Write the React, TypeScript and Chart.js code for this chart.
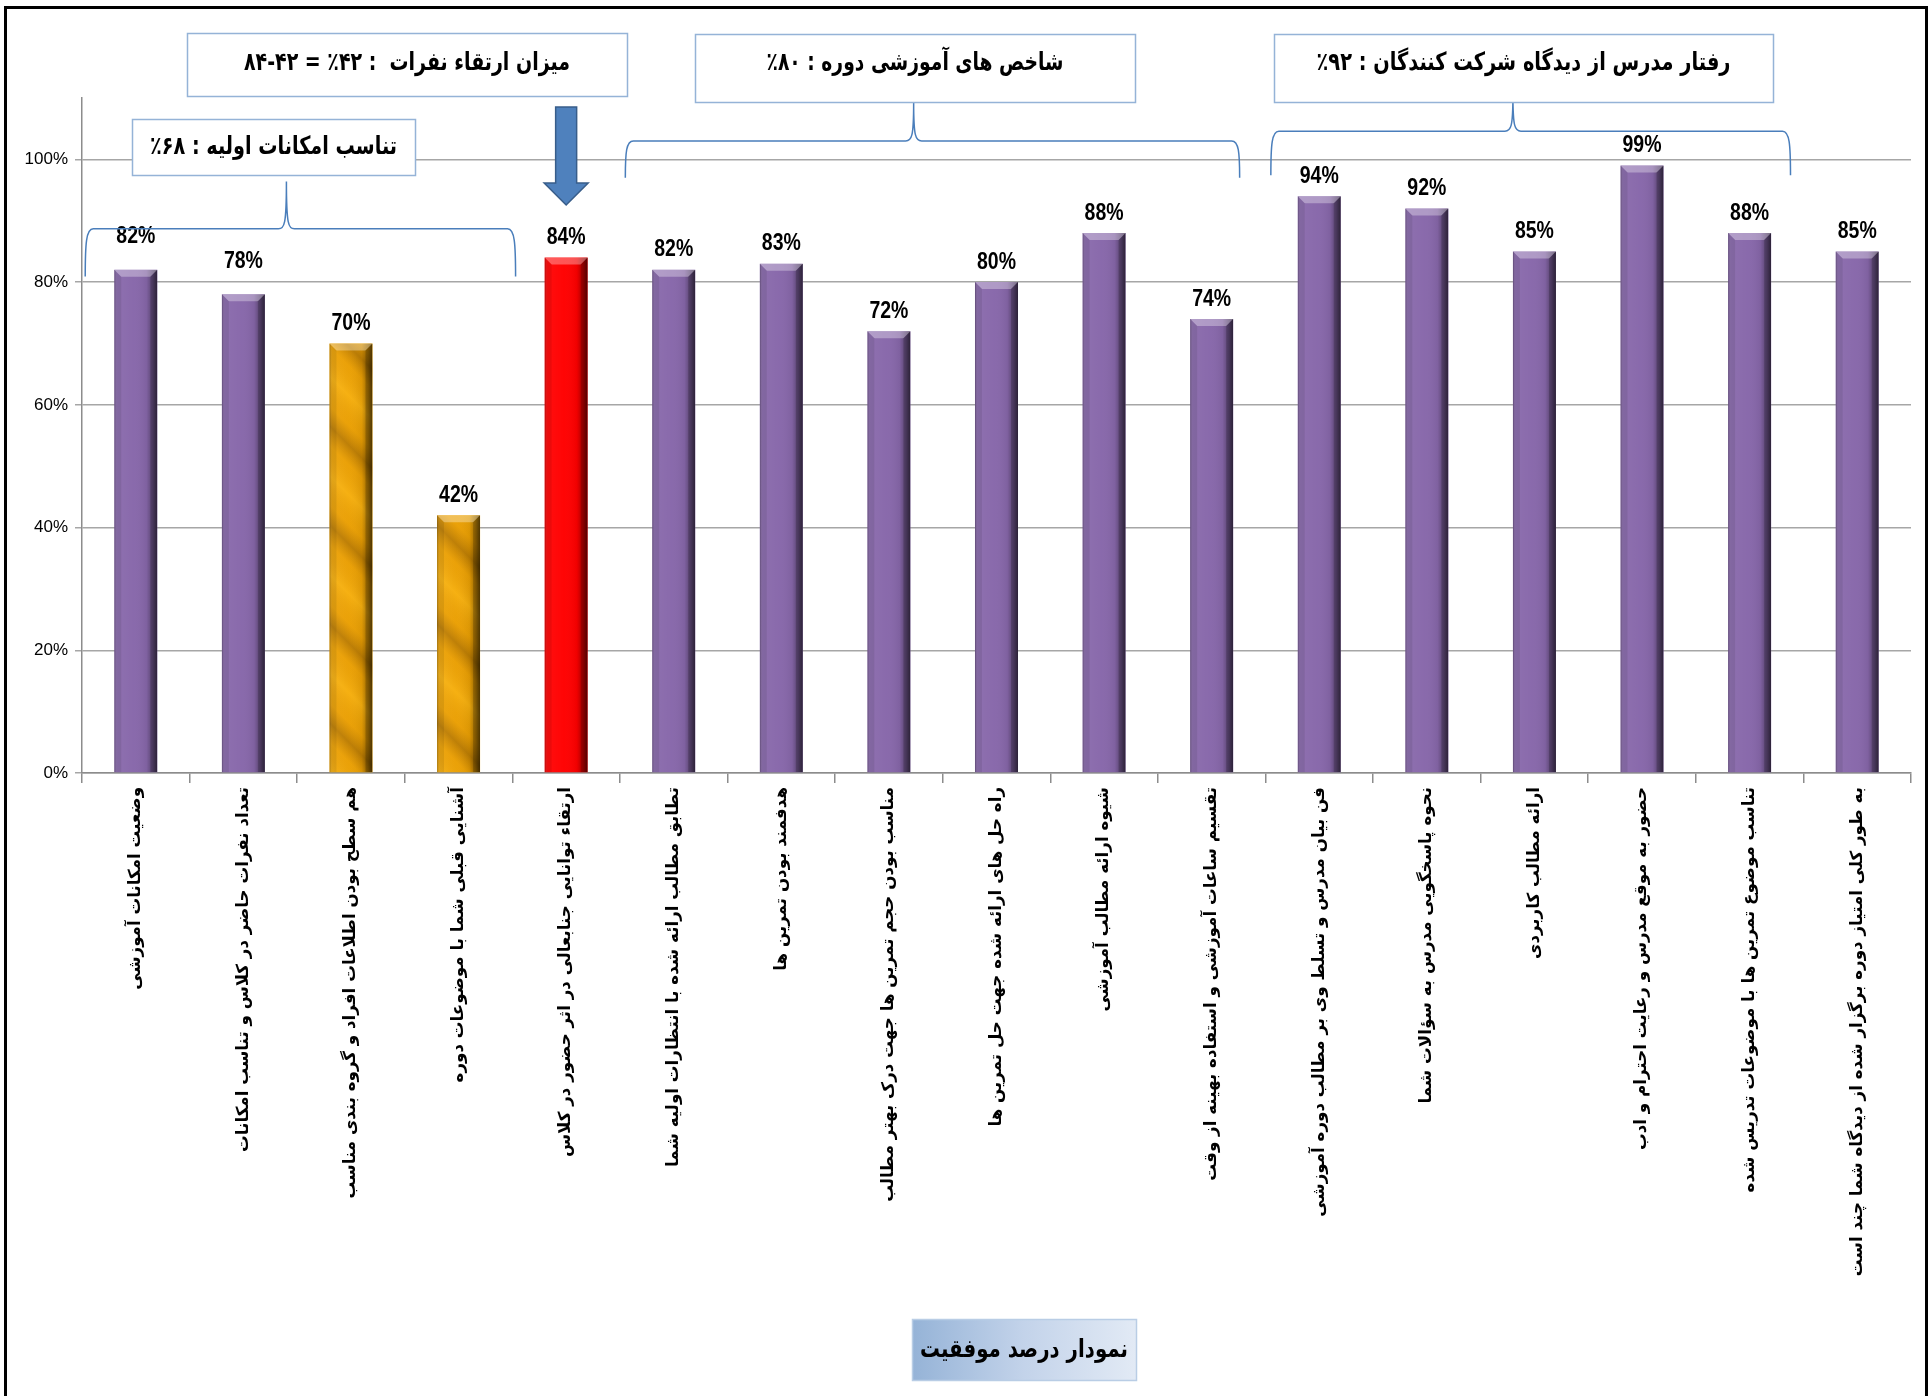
import React, { useEffect, useRef } from 'react';
import { Chart, registerables } from 'chart.js';

Chart.register(...registerables);

// ---------- data ----------
const categories: string[] = [
  'وضعیت امکانات آموزشی',
  'تعداد نفرات حاضر در کلاس و تناسب امکانات',
  'هم سطح بودن اطلاعات افراد و گروه بندی مناسب',
  'آشنایی قبلی شما با موضوعات دوره',
  'ارتقاء توانایی جنابعالی در اثر حضور در کلاس',
  'تطابق مطالب ارائه شده با انتظارات اولیه شما',
  'هدفمند بودن تمرین ها',
  'مناسب بودن حجم تمرین ها جهت درک بهتر مطالب',
  'راه حل های ارائه شده جهت حل تمرین ها',
  'شیوه ارائه مطالب آموزشی',
  'تقسیم ساعات آموزشی و استفاده بهینه از وقت',
  'فن بیان مدرس و تسلط وی بر مطالب دوره آموزشی',
  'نحوه پاسخگویی مدرس به سؤالات شما',
  'ارائه مطالب کاربردی',
  'حضور به موقع مدرس و رعایت احترام و ادب',
  'تناسب موضوع تمرین ها با موضوعات تدریس شده',
  'به طور کلی امتیاز دوره برگزار شده از دیدگاه شما چند است',
];

const values: number[] = [82, 78, 70, 42, 84, 82, 83, 72, 80, 88, 74, 94, 92, 85, 99, 88, 85];

const yTicks: number[] = [0, 20, 40, 60, 80, 100];

const barKinds: string[] = [
  'purple', 'purple', 'gold', 'gold', 'red', 'purple', 'purple', 'purple', 'purple',
  'purple', 'purple', 'purple', 'purple', 'purple', 'purple', 'purple', 'purple',
];

const labelLift: number[] = [13, 13, 0, 0, 0, 0, 0, 0, 0, 0, 0, 0, 0, 0, 0, 0, 0];

const groupTexts: string[] = [
  'تناسب امکانات اولیه : ۶۸٪',
  'شاخص های آموزشی دوره : ۸۰٪',
  'رفتار مدرس از دیدگاه شرکت کنندگان : ۹۲٪',
];
const improvementText = 'میزان ارتقاء نفرات  : ۴۲٪ = ۴۲-۸۴';
const titleText = 'نمودار درصد موفقیت';

// ---------- styles ----------
const baseColors: Record<string, string> = { purple: '#8767aa', gold: '#f4a703', red: '#ff0000' };
const PERSIAN_FONT = '"DejaVu Sans", "Noto Sans", sans-serif';
const LATIN_FONT = '"Liberation Sans", Arial, sans-serif';
const NARROW_FONT = '"Liberation Sans Narrow", "Liberation Sans", Arial, sans-serif';

function fitSize(ctx: CanvasRenderingContext2D, text: string, weight: string, family: string, target: number, base = 24) {
  ctx.font = `${weight} ${base}px ${family}`;
  const w = ctx.measureText(text).width || target;
  return base * target / w;
}

// draws text at a fixed font size, squeezed horizontally to a target width
function fitText(ctx: CanvasRenderingContext2D, text: string, cx: number, cy: number, font: string, target: number, rtl: boolean) {
  ctx.save();
  ctx.font = font;
  (ctx as any).direction = rtl ? 'rtl' : 'ltr';
  const w = ctx.measureText(text).width || target;
  const k = target / w;
  ctx.translate(cx, cy);
  ctx.scale(k, 1);
  ctx.fillStyle = '#000';
  ctx.textAlign = 'center';
  ctx.textBaseline = 'middle';
  ctx.fillText(text, 0, 0);
  ctx.restore();
}

function shadeBar(ctx: CanvasRenderingContext2D, L: number, R: number, T: number, B: number, kind: string) {
  const w = R - L;
  const h = B - T;
  if (h <= 0) return;
  const b = Math.min(7, h / 2);
  ctx.save();
  ctx.beginPath();
  ctx.rect(L, T, w, h);
  ctx.clip();

  if (kind === 'gold') {
    const s = (w + h) / 2;
    const g = ctx.createLinearGradient(L, B, L + s, B - s);
    const total = (w + h) / Math.SQRT2;
    const period = 70;
    const n = total / period;
    for (let k = 0; k <= Math.ceil(n); k++) {
      const p0 = k / n;
      const p1 = (k + 0.3) / n;
      const p2 = (k + 0.5) / n;
      const p3 = (k + 0.7) / n;
      if (p0 <= 1) g.addColorStop(p0, 'rgba(255,210,60,0.18)');
      if (p1 <= 1) g.addColorStop(p1, 'rgba(120,70,0,0.08)');
      if (p2 <= 1) g.addColorStop(p2, 'rgba(90,50,0,0.36)');
      if (p3 <= 1) g.addColorStop(p3, 'rgba(120,70,0,0.08)');
    }
    ctx.fillStyle = g;
    ctx.fillRect(L, T, w, h);
  }

  const hg = ctx.createLinearGradient(L, 0, R, 0);
  hg.addColorStop(0, 'rgba(0,0,0,0.28)');
  hg.addColorStop(0.06, 'rgba(255,255,255,0.06)');
  hg.addColorStop(0.45, 'rgba(255,255,255,0.02)');
  hg.addColorStop(0.75, 'rgba(0,0,0,0.06)');
  hg.addColorStop(0.9, 'rgba(0,0,0,0.35)');
  hg.addColorStop(1, 'rgba(0,0,0,0.6)');
  ctx.fillStyle = hg;
  ctx.fillRect(L, T, w, h);

  // top bevel
  ctx.beginPath();
  ctx.moveTo(L, T);
  ctx.lineTo(R, T);
  ctx.lineTo(R - b, T + b);
  ctx.lineTo(L + b, T + b);
  ctx.closePath();
  ctx.fillStyle = 'rgba(255,255,255,0.32)';
  ctx.fill();
  // right bevel
  ctx.beginPath();
  ctx.moveTo(R, T);
  ctx.lineTo(R, B);
  ctx.lineTo(R - b, B);
  ctx.lineTo(R - b, T + b);
  ctx.closePath();
  ctx.fillStyle = 'rgba(0,0,0,0.18)';
  ctx.fill();
  // left bevel
  ctx.beginPath();
  ctx.moveTo(L, T);
  ctx.lineTo(L + b, T + b);
  ctx.lineTo(L + b, B);
  ctx.lineTo(L, B);
  ctx.closePath();
  ctx.fillStyle = 'rgba(0,0,0,0.08)';
  ctx.fill();
  ctx.restore();
}

function drawBrace(ctx: CanvasRenderingContext2D, x1: number, x2: number, xc: number, yEnd: number, yH: number, yPeak: number) {
  const r = 8;
  ctx.beginPath();
  ctx.moveTo(x1, yEnd);
  ctx.bezierCurveTo(x1, yH + (yEnd - yH) * 0.3, x1 + 1, yH, x1 + r, yH);
  ctx.lineTo(xc - r, yH);
  ctx.bezierCurveTo(xc - 2, yH, xc, yH - 4, xc, yPeak);
  ctx.bezierCurveTo(xc, yH - 4, xc + 2, yH, xc + r, yH);
  ctx.lineTo(x2 - r, yH);
  ctx.bezierCurveTo(x2 - 1, yH, x2, yH + (yEnd - yH) * 0.3, x2, yEnd);
  ctx.strokeStyle = '#4a7ebb';
  ctx.lineWidth = 1.5;
  ctx.stroke();
}

function drawTextBox(ctx: CanvasRenderingContext2D, x: number, y: number, w: number, h: number, text: string, textW: number, cy: number) {
  ctx.save();
  ctx.fillStyle = '#ffffff';
  ctx.fillRect(x, y, w, h);
  ctx.strokeStyle = '#95b3d7';
  ctx.lineWidth = 1.5;
  ctx.strokeRect(x + 0.5, y + 0.5, w, h);
  ctx.restore();
  fitText(ctx, text, x + w / 2, cy, `bold 25px ${PERSIAN_FONT}`, textW, true);
}

const decorPlugin = {
  id: 'decor',
  beforeDraw(chart: any) {
    const ctx = chart.ctx as CanvasRenderingContext2D;
    ctx.save();
    ctx.fillStyle = '#ffffff';
    ctx.fillRect(0, 0, chart.width, chart.height);
    ctx.restore();
  },
  afterDatasetsDraw(chart: any) {
    const ctx = chart.ctx as CanvasRenderingContext2D;
    const meta = chart.getDatasetMeta(0);
    meta.data.forEach((el: any, i: number) => {
      const p = el.getProps(['x', 'y', 'base', 'width'], true);
      const L = p.x - p.width / 2;
      const R = p.x + p.width / 2;
      shadeBar(ctx, L, R, p.y, p.base, barKinds[i]);
      fitText(ctx, `${Math.round(values[i])}%`, p.x, p.y - 20 - labelLift[i], `bold 24px ${NARROW_FONT}`, 39, false);
    });
  },
  afterDraw(chart: any) {
    const ctx = chart.ctx as CanvasRenderingContext2D;
    const xs = chart.scales.x;
    const ys = chart.scales.y;
    const cat = xs.getPixelForValue(1) - xs.getPixelForValue(0);
    const px = (v: number) => xs.getPixelForValue(0) + v * cat;
    const py = (v: number) => ys.getPixelForValue(v);

    // outer frame
    ctx.save();
    ctx.strokeStyle = '#000';
    ctx.lineWidth = 3;
    ctx.beginPath();
    ctx.moveTo(5.5, chart.height);
    ctx.lineTo(5.5, 7.5);
    ctx.lineTo(1926.5, 7.5);
    ctx.lineTo(1926.5, chart.height);
    ctx.stroke();
    ctx.restore();

    // braces
    drawBrace(ctx, px(-0.47), px(3.53), px(1.4), py(80.9), py(88.7), py(96.4));
    drawBrace(ctx, px(4.55), px(10.26), px(7.23), py(97), py(103), py(109.2));
    drawBrace(ctx, px(10.55), px(15.38), px(12.8), py(97.4), py(104.6), py(110.5));

    // boxes
    drawTextBox(ctx, 132, 119, 283, 56, groupTexts[0], 247, 147);
    drawTextBox(ctx, 695, 34, 440, 68, groupTexts[1], 297, 63);
    drawTextBox(ctx, 1274, 34, 499, 68, groupTexts[2], 414, 63);
    drawTextBox(ctx, 187, 33, 440, 63, improvementText, 326, 63);

    // arrow
    const ax = xs.getPixelForValue(4);
    ctx.save();
    ctx.beginPath();
    ctx.moveTo(ax - 10.5, 107);
    ctx.lineTo(ax + 10.5, 107);
    ctx.lineTo(ax + 10.5, 183);
    ctx.lineTo(ax + 22, 183);
    ctx.lineTo(ax, 205);
    ctx.lineTo(ax - 22, 183);
    ctx.lineTo(ax - 10.5, 183);
    ctx.closePath();
    ctx.fillStyle = '#4f81bd';
    ctx.fill();
    ctx.strokeStyle = '#385d8a';
    ctx.lineWidth = 1.5;
    ctx.stroke();
    ctx.restore();

    // title box
    ctx.save();
    const tx = 912, ty = 1319, tw = 224, th = 61;
    const tg = ctx.createLinearGradient(tx, 0, tx + tw, 0);
    tg.addColorStop(0, '#95b3d7');
    tg.addColorStop(0.5, '#c3d3ea');
    tg.addColorStop(1, '#e2eaf5');
    ctx.fillStyle = tg;
    ctx.fillRect(tx, ty, tw, th);
    ctx.strokeStyle = '#b9cde5';
    ctx.lineWidth = 1.5;
    ctx.strokeRect(tx + 0.5, ty + 0.5, tw, th);
    ctx.restore();
    fitText(ctx, titleText, tx + tw / 2, ty + th / 2 + 1, `bold 25px ${PERSIAN_FONT}`, 208, true);
  },
};

export default function App() {
  const ref = useRef<HTMLCanvasElement | null>(null);

  useEffect(() => {
    const canvas = ref.current;
    if (!canvas) return;
    const mctx = document.createElement('canvas').getContext('2d') as CanvasRenderingContext2D;
    const xFontSize = fitSize(mctx, categories[0], 'bold', PERSIAN_FONT, 203, 17);

    const chart = new Chart(canvas, {
      type: 'bar',
      data: {
        labels: categories,
        datasets: [
          {
            data: values,
            backgroundColor: barKinds.map((k) => baseColors[k]),
            borderWidth: 0,
            barPercentage: 0.4,
            categoryPercentage: 1.0,
          },
        ],
      },
      options: {
        responsive: false,
        animation: false,
        events: [],
        layout: { padding: { left: 0, right: 19, top: 98, bottom: 0 } },
        plugins: {
          legend: { display: false },
          tooltip: { enabled: false },
          title: { display: false },
        },
        scales: {
          x: {
            type: 'category',
            grid: {
              display: true,
              drawOnChartArea: false,
              drawTicks: true,
              tickLength: 10,
              color: '#8c8c8c',
              lineWidth: 1.5,
              offset: true,
            },
            border: { display: true, color: '#8c8c8c', width: 1.5 },
            ticks: {
              autoSkip: false,
              minRotation: 90,
              maxRotation: 90,
              color: '#000',
              padding: 4,
              font: { family: PERSIAN_FONT, size: xFontSize, weight: 'bold' },
            },
            afterFit: (s: any) => {
              s.height = 623;
            },
          },
          y: {
            min: 0,
            max: 110,
            afterBuildTicks: (s: any) => {
              s.ticks = yTicks.map((v) => ({ value: v }));
            },
            grid: { color: '#a6a6a6', lineWidth: 1.5, tickLength: 7, drawTicks: true },
            border: { display: true, color: '#8c8c8c', width: 1.5 },
            ticks: {
              callback: (v: any) => `${v}%`,
              color: '#000',
              padding: 7,
              font: { family: LATIN_FONT, size: 17 },
            },
            afterFit: (s: any) => {
              s.width = 82;
            },
          },
        },
      } as any,
      plugins: [decorPlugin as any],
    });
    return () => chart.destroy();
  }, []);

  return (
    <div style={{ position: 'absolute', left: 0, top: 0, width: 1930, height: 1396, background: '#fff' }}>
      <canvas ref={ref} width={1930} height={1396} style={{ display: 'block', width: 1930, height: 1396 }} />
    </div>
  );
}
